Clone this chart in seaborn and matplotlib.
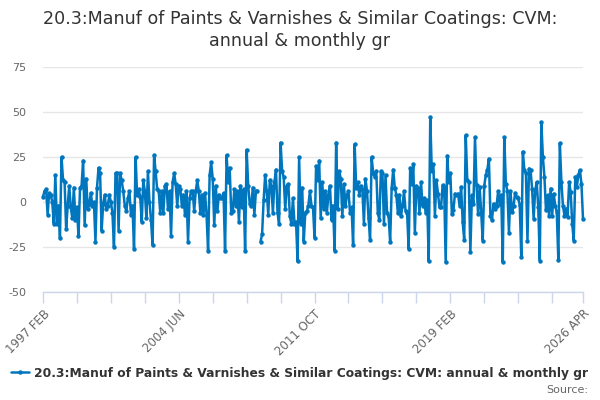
import numpy as np
import pandas as pd
import matplotlib
matplotlib.use("Agg")
import matplotlib.pyplot as plt
import seaborn as sns
from matplotlib.lines import Line2D

# ---- data ----
start_month = "1997-02"
end_month = "2026-04"

seg_a = [3, 6, 7, -7, 5, 4, 0, -12, 15, -12, -2, -20, 25, 12, 11, -15, -2, 9, -3, -9,
         8, -10, -3, -19, 8, 9, 23, -13, 13, -4, -1, 5, -2, 0, -22, 8, 19, 16, -16, -1,
         4, -4, -2, 4, 0, -6, -25, 16, 16, -16]
seg_b = [16, 12, 6, -2, -5, 2, 6, -7, -2, -26, 25, 4, 7, 3, -11, 12, 6, -9, 17, 0,
         -10, -24, 26, 17, 7, 6, -6, 6, -6, 9, 10, -4, 6, -19, 11, 16, 10, -2, 9, 7,
         -2, 4, -7, 6, -22, 2, 6, 6, -5, 6, 12]
seg_c = [6, -6, 4, -7, 5, -7, -27, 15, 22, 13, -13, 9, -5, 4, 2, 2, 5, -27, 26, 11,
         19, -6, -5, 7, -2, 6, -11, 9, -3, 7, -27, 29, 9, -1, -2, 8, -7, 6, 6, np.nan,
         -22, -18, 1, 15, 6, -7, 12, 9, -6, 11, 18]
seg_d = [-6, -12, 33, 17, 14, -4, 9, 10, -8, -12, 2, -12, -11, -33, 25, -12, 8, -22, -6, -5,
         -2, 6, -2, -3, -20, 20, 12, 23, -9, 11, -4, 6, -6, 4, 9, -10, -2, -27, 33, -4,
         17, 13, -8, 10, -2, 4, 6, -6, -3, -24]
seg_e = [32, 8, 11, 4, 9, 7, -12, 13, 6, -9, -21, 25, 16, 14, 17, -6, -10, 17, 16, -12,
         15, -6, -8, -22, 8, 18, 8, 4, -6, 4, -8, -2, 6, -5, -6, -26, 19, 10, 21, -17,
         9, 8, -6, 11, -2, 2, -6, 1, -33, 47, 17]
seg_f = [21, -7.5, 12, 4.6, -3, -3, 9.3, 8.4, -33.5, 25.7, 11, 16, -6.5, -4.6, 4.6, 3.7, 4.6, -2, 8.4, -11,
         -21, 37, 12, 11, -28, 3.7, -1, 36, 9.3, -6.5, 8.4, -5.6, -21.4, 9, 15, 18, 24, -7.5, -10, -1,
         -4, -2, 6, -1, 4, -33.5, 36, 10, 6, -17]
seg_g = [6, -5.6, -2, 5, 2.8, 2, -1.5, -30.7, 28, 17.7, 16, -21.4, 18.6, 17.7, 7.5, -9.3, 6.5, 11, -3, -32.6,
         44.3, 25, 14, -4.6, 3.7, -7.5, 7.5, -7.5, 4.6, -2, -5.6, -32, 32.6, 11, -2, -7.5, -3.7, -8.4, 11, 5.6,
         -12, -21.4, 14, 8.4, 15, 17.7, 10, -9.3]

values = seg_a + seg_b + seg_c + seg_d + seg_e + seg_f + seg_g

yticks = [-50, -25, 0, 25, 50, 75]
series_name = "20.3:Manuf of Paints & Varnishes & Similar Coatings: CVM: annual & monthly gr"
title = "20.3:Manuf of Paints & Varnishes & Similar Coatings: CVM:\nannual & monthly gr"

months = pd.period_range(start_month, end_month, freq="M")
labels = [f"{p.year} {p.strftime('%b').upper()}" for p in months]

df = pd.DataFrame({"idx": np.arange(len(values)), "value": values})
df["seg"] = df["value"].isna().cumsum()
df = df.dropna()

# ---- styling ----
blue = "#0076be"
sns.set_theme(style="white")
plt.rcParams["font.family"] = ["DejaVu Sans"]

fig = plt.figure(figsize=(6, 4), dpi=100)
ax = fig.add_axes([43 / 600, 1 - 292 / 400, (583 - 43) / 600, (292 - 67) / 400])

sns.lineplot(data=df, x="idx", y="value", units="seg", estimator=None, sort=False,
             color=blue, linewidth=1.8, marker="o", markersize=3.2,
             markeredgewidth=0, ax=ax, legend=False)
for ln in ax.lines:
    ln.set_clip_on(False)

n = len(values)
ax.set_xlim(0, n - 1)
ax.set_ylim(-50, 75)
ax.set_yticks(yticks)
ax.set_yticklabels([str(t) for t in yticks])
ax.yaxis.grid(True, color="#e6e6e6", linewidth=1)
ax.xaxis.grid(False)
ax.set_xlabel("")
ax.set_ylabel("")

tick_pos = list(range(0, n - 1, 22)) + [n - 1]
ax.set_xticks(tick_pos)
lab_pos = [0, 88, 176, 264, n - 1]
ax.set_xticklabels([labels[p] if p in lab_pos else "" for p in tick_pos],
                   rotation=45, ha="right", rotation_mode="anchor")

for s in ["top", "right", "left"]:
    ax.spines[s].set_visible(False)
ax.spines["bottom"].set_color("#ccd6eb")
ax.spines["bottom"].set_linewidth(1)
ax.tick_params(axis="x", which="both", bottom=True, length=8, width=1, color="#ccd6eb",
               labelsize=8.5, labelcolor="#666666", pad=3)
ax.tick_params(axis="y", length=0, labelsize=8, labelcolor="#666666", pad=12)

fig.text(0.5, 1 - 30 / 400, title, ha="center", va="center", fontsize=12.6,
         color="#333333", linespacing=1.32)

handle = Line2D([0], [0], color=blue, linewidth=1.8, marker="o", markersize=3.2,
                markeredgewidth=0)
fig.legend([handle], [series_name], loc="center left",
           bbox_to_anchor=(11 / 600, 1 - 373 / 400), frameon=False, handlelength=1.5,
           handletextpad=0.4, prop={"weight": "bold", "size": 8.85},
           labelcolor="#333333", borderaxespad=0, borderpad=0)

fig.text(588 / 600, 1 - 390 / 400, "Source:", ha="right", va="center",
         fontsize=8, color="#666666")

fig.savefig("out.png", dpi=100)
